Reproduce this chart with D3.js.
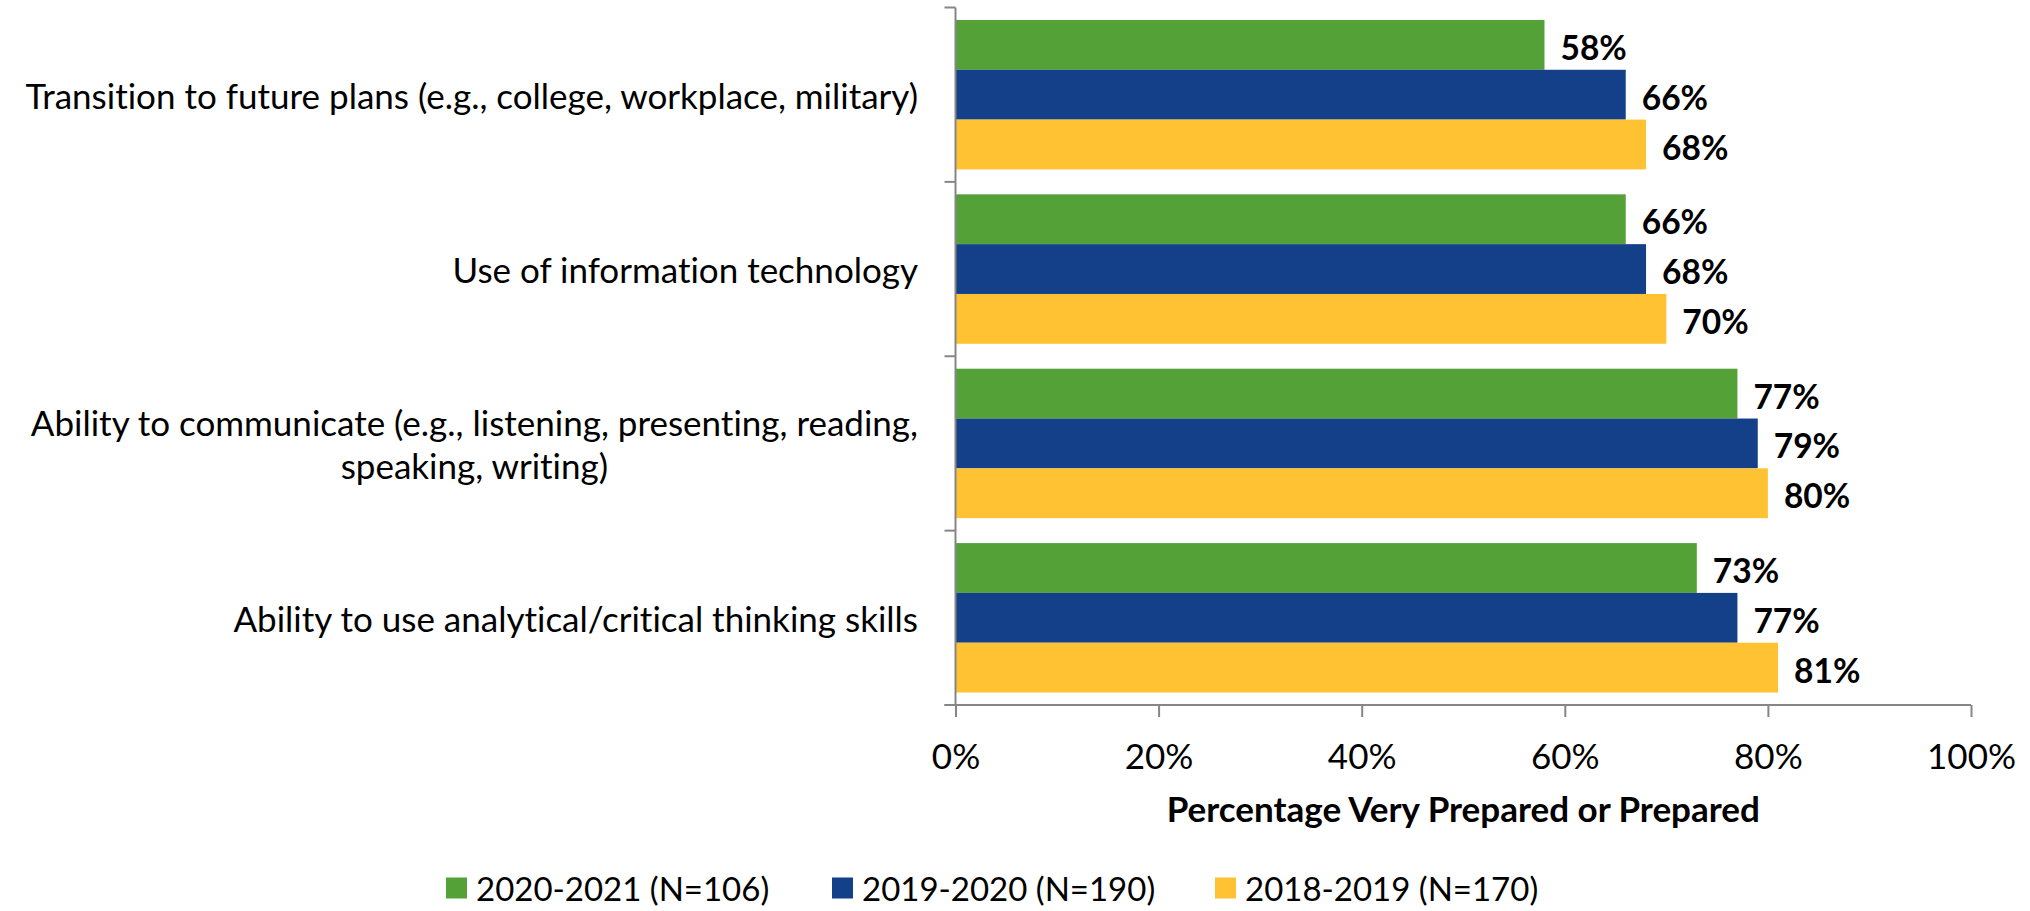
<!DOCTYPE html>
<html>
<head>
<meta charset="utf-8">
<script src="https://cdn.jsdelivr.net/npm/d3@7"></script>
<style>
  html, body { margin: 0; padding: 0; background: #fff; }
  svg { display: block; }
  text { font-family: Lato, "Open Sans", sans-serif; fill: #000; font-variant-ligatures: none; font-feature-settings: "liga" 0, "clig" 0; }
</style>
</head>
<body>
<svg id="chart" width="2030" height="911"></svg>
<script>
// ---- data ----
const categories = [
  ["Transition to future plans (e.g., college, workplace, military)"],
  ["Use of information technology"],
  ["Ability to communicate (e.g., listening, presenting, reading,", "speaking, writing)"],
  ["Ability to use analytical/critical thinking skills"]
];
const seriesNames = ["2020-2021 (N=106)", "2019-2020 (N=190)", "2018-2019 (N=170)"];
const values2021 = [58, 66, 77, 73];
const values2020 = [66, 68, 79, 77];
const values2019 = [68, 70, 80, 81];
const seriesColors = ["#54A138", "#134088", "#FFC232"];
const xTicks = [0, 20, 40, 60, 80, 100];
const xTitle = "Percentage Very Prepared or Prepared";

const seriesValues = [values2021, values2020, values2019];

// ---- layout ----
const svg = d3.select("#chart");
const plotLeft = 955.5, plotRight = 1971, plotTop = 7.5, plotBottom = 705;
const axisColor = "#868686";
const FONT = "Lato, 'Open Sans', sans-serif";

const catKeys = categories.map((c, i) => i);
const x = d3.scaleLinear().domain([0, 100]).range([plotLeft, plotRight]);
const y0 = d3.scaleBand().domain(catKeys).range([plotTop, plotBottom]).paddingInner(0).paddingOuter(0);
const y1 = d3.scaleBand().domain(d3.range(seriesNames.length)).range([0, y0.bandwidth()]).paddingInner(0).paddingOuter(0.25);

// bars
const g = svg.append("g");
catKeys.forEach(ci => {
  seriesValues.forEach((vals, si) => {
    g.append("rect")
      .attr("x", x(0))
      .attr("y", y0(ci) + y1(si))
      .attr("width", x(vals[ci]) - x(0))
      .attr("height", y1.bandwidth())
      .attr("fill", seriesColors[si]);
    g.append("text")
      .attr("x", x(vals[ci]) + 16)
      .attr("y", y0(ci) + y1(si) + y1.bandwidth() / 2 + 2)
      .attr("dominant-baseline", "central")
      .attr("font-size", 33.5)
      .attr("font-weight", "bold")
      .text(vals[ci] + "%");
  });
});

// x axis
const xAxis = d3.axisBottom(x).tickValues(xTicks).tickSize(12).tickPadding(8)
  .tickFormat(d => d + "%");
const gx = svg.append("g").attr("transform", `translate(0,${plotBottom})`).call(xAxis);
gx.select(".domain").attr("stroke", axisColor).attr("stroke-width", 2)
  .attr("d", `M${plotLeft - 11},0H${plotRight}`);
gx.selectAll(".tick line").attr("stroke", axisColor).attr("stroke-width", 2);
gx.selectAll(".tick text").attr("font-size", 35).attr("font-family", FONT)
  .attr("fill", "#000").attr("dy", null).attr("y", 50).attr("dominant-baseline", "central");

// y axis (category boundaries ticks)
const boundaries = catKeys.map(ci => y0(ci)).concat([plotBottom]);
const gy = svg.append("g");
gy.append("line").attr("x1", plotLeft).attr("x2", plotLeft).attr("y1", plotTop).attr("y2", plotBottom)
  .attr("stroke", axisColor).attr("stroke-width", 2);
gy.selectAll("line.tk").data(boundaries).enter().append("line").attr("class", "tk")
  .attr("x1", plotLeft - 11).attr("x2", plotLeft).attr("y1", d => d).attr("y2", d => d)
  .attr("stroke", axisColor).attr("stroke-width", 2);

// category labels
const labelRight = 918;
const lineH = 43;
catKeys.forEach(ci => {
  const lines = categories[ci];
  const cy = y0(ci) + y0.bandwidth() / 2;
  const t = svg.append("text").attr("font-size", 35);
  const tspans = lines.map((ln, li) => t.append("tspan").text(ln)
    .attr("y", cy + (li - (lines.length - 1) / 2) * lineH)
    .attr("dominant-baseline", "central"));
  if (lines.length === 1) {
    t.attr("text-anchor", "end");
    tspans[0].attr("x", labelRight);
  } else {
    t.attr("text-anchor", "middle");
    tspans.forEach(s => s.attr("x", 0));
    const maxW = d3.max(tspans.map(s => s.node().getComputedTextLength()));
    tspans.forEach(s => s.attr("x", labelRight - maxW / 2));
  }
});

// x title
svg.append("text")
  .attr("x", (plotLeft + plotRight) / 2).attr("y", 808)
  .attr("text-anchor", "middle").attr("dominant-baseline", "central")
  .attr("font-size", 35).attr("font-weight", "bold")
  .text(xTitle);

// legend
const legendX = [446, 832, 1215];
const legY = 888;
const lg = svg.append("g");
seriesNames.forEach((name, i) => {
  lg.append("rect").attr("x", legendX[i]).attr("y", legY - 10.5).attr("width", 21).attr("height", 21)
    .attr("fill", seriesColors[i]);
  lg.append("text").attr("x", legendX[i] + 30).attr("y", legY)
    .attr("dominant-baseline", "central").attr("font-size", 33).text(name);
});
</script>
</body>
</html>
